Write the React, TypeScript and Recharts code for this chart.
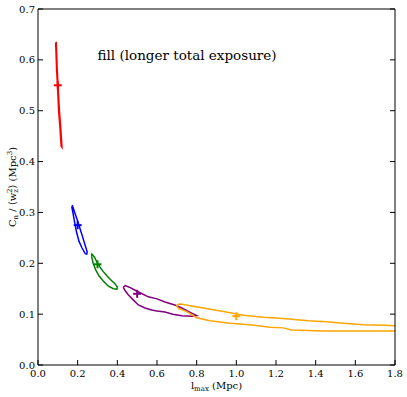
import { ComposedChart, Line, Scatter, XAxis, YAxis } from "recharts";

// contour outlines, [l_max (Mpc), C_n/<w_z^2>]
const redLoop = [[0.089,0.634],[0.094,0.58],[0.098,0.55],[0.104,0.50],[0.110,0.47],[0.117,0.43],[0.121,0.428],[0.114,0.47],[0.108,0.50],[0.101,0.55],[0.097,0.58],[0.092,0.634],[0.089,0.634]];
const blueLoop = [[0.170,0.312],[0.178,0.295],[0.186,0.278],[0.195,0.260],[0.207,0.243],[0.222,0.230],[0.238,0.219],[0.246,0.218],[0.248,0.222],[0.238,0.235],[0.225,0.252],[0.212,0.268],[0.198,0.285],[0.185,0.300],[0.174,0.313],[0.170,0.312]];
const greenLoop = [[0.270,0.214],[0.278,0.200],[0.291,0.187],[0.308,0.175],[0.329,0.165],[0.355,0.155],[0.380,0.150],[0.398,0.149],[0.400,0.153],[0.388,0.160],[0.365,0.168],[0.346,0.176],[0.326,0.185],[0.312,0.193],[0.296,0.203],[0.285,0.212],[0.272,0.218],[0.270,0.214]];
const purpleLoop = [[0.430,0.153],[0.440,0.156],[0.460,0.153],[0.490,0.147],[0.520,0.141],[0.556,0.134],[0.600,0.130],[0.640,0.124],[0.690,0.118],[0.725,0.112],[0.760,0.105],[0.790,0.099],[0.800,0.097],[0.780,0.096],[0.725,0.097],[0.680,0.100],[0.640,0.104],[0.600,0.106],[0.573,0.108],[0.540,0.112],[0.506,0.118],[0.480,0.128],[0.455,0.138],[0.438,0.147],[0.430,0.153]];
const orangeLoop = [[1.80,0.077],[1.75,0.078],[1.64,0.079],[1.54,0.082],[1.456,0.085],[1.363,0.087],[1.279,0.090],[1.22,0.092],[1.136,0.094],[1.035,0.098],[0.934,0.105],[0.834,0.112],[0.760,0.117],[0.720,0.120],[0.705,0.119],[0.699,0.116],[0.710,0.111],[0.750,0.105],[0.800,0.093],[0.867,0.087],[0.968,0.082],[1.069,0.079],[1.170,0.074],[1.237,0.073],[1.279,0.069],[1.44,0.067],[1.80,0.067]];

// best-fit points
const bestFit = [
  { x: 0.1, y: 0.55, c: "#ff0000" },
  { x: 0.2, y: 0.275, c: "#0000ff" },
  { x: 0.3, y: 0.198, c: "#008000" },
  { x: 0.5, y: 0.14, c: "#800080" },
  { x: 1.0, y: 0.096, c: "#ffa500" },
];

const xTicks = [0, 0.2, 0.4, 0.6, 0.8, 1.0, 1.2, 1.4, 1.6, 1.8];
const yTicks = [0, 0.1, 0.2, 0.3, 0.4, 0.5, 0.6, 0.7];
const note = [{ x: 0.3, y: 0.6, text: "fill (longer total exposure)" }];

const FONT = "'DejaVu Serif', serif";
const toPts = (arr: number[][]) => arr.map(([x, y]) => ({ x, y }));

const series = [
  { name: "red", pts: toPts(redLoop), color: "#ff0000" },
  { name: "blue", pts: toPts(blueLoop), color: "#0000ff" },
  { name: "green", pts: toPts(greenLoop), color: "#008000" },
  { name: "purple", pts: toPts(purpleLoop), color: "#800080" },
  { name: "orange", pts: toPts(orangeLoop), color: "#ffa500" },
];

// ticks point inward, like matplotlib classic
const BottomTick = (p: any) => (
  <g>
    <line x1={p.x} y1={p.y} x2={p.x} y2={p.y - 5} stroke="#000" />
    <text x={p.x} y={p.y + 12} textAnchor="middle" fontSize={10} fontFamily={FONT} fill="#000">
      {Number(p.payload.value).toFixed(1)}
    </text>
  </g>
);
const TopTick = (p: any) => <line x1={p.x} y1={p.y} x2={p.x} y2={p.y + 5} stroke="#000" />;
const LeftTick = (p: any) => (
  <g>
    <line x1={p.x} y1={p.y} x2={p.x + 5} y2={p.y} stroke="#000" />
    <text x={p.x - 3} y={p.y + 3.5} textAnchor="end" fontSize={10} fontFamily={FONT} fill="#000">
      {Number(p.payload.value).toFixed(1)}
    </text>
  </g>
);
const RightTick = (p: any) => <line x1={p.x} y1={p.y} x2={p.x - 5} y2={p.y} stroke="#000" />;

const Plus = (p: any) => (
  <g stroke={p.payload.c} strokeWidth={2}>
    <line x1={p.cx - 4} y1={p.cy} x2={p.cx + 4} y2={p.cy} />
    <line x1={p.cx} y1={p.cy - 4} x2={p.cx} y2={p.cy + 4} />
  </g>
);

const NoteText = (p: any) => (
  <text x={p.cx} y={p.cy} fontSize={13.5} fontFamily={FONT} fill="#000">{p.payload.text}</text>
);

export default function App() {
  return (
    <div style={{ position: "absolute", left: 0, top: 0, width: 407, height: 397, background: "#fff" }}>
      <ComposedChart width={407} height={397} margin={{ top: 0, right: 0, bottom: 0, left: 0 }}>
        <XAxis dataKey="x" type="number" domain={[0, 1.8]} ticks={xTicks} allowDataOverflow
          height={32} tickSize={0} tickMargin={0} tickLine={false} stroke="#000" tick={BottomTick} interval={0} />
        <XAxis xAxisId="top" orientation="top" type="number" domain={[0, 1.8]} ticks={xTicks} allowDataOverflow
          height={9} tickSize={0} tickMargin={0} tickLine={false} stroke="#000" tick={TopTick} interval={0} />
        <YAxis dataKey="y" type="number" domain={[0, 0.7]} ticks={yTicks} allowDataOverflow
          width={38} tickSize={0} tickMargin={0} tickLine={false} stroke="#000" tick={LeftTick} interval={0} />
        <YAxis yAxisId="right" orientation="right" type="number" domain={[0, 0.7]} ticks={yTicks} allowDataOverflow
          width={12} tickSize={0} tickMargin={0} tickLine={false} stroke="#000" tick={RightTick} interval={0} />
        {series.map((s) => (
          <Line key={s.name} data={s.pts} dataKey="y" type="linear" stroke={s.color} strokeWidth={1.5}
            dot={false} activeDot={false} isAnimationActive={false} />
        ))}
        <Scatter data={bestFit} dataKey="y" shape={Plus} isAnimationActive={false} />
        <Scatter data={note} dataKey="y" shape={NoteText} isAnimationActive={false} />
      </ComposedChart>
      <svg width={407} height={397} style={{ position: "absolute", left: 0, top: 0, pointerEvents: "none" }}>
        <text x={216.5} y={389} textAnchor="middle" fontSize={10} fontFamily={FONT} fill="#000">
          l<tspan fontSize={7} dy={2}>max</tspan><tspan dy={-2}> (Mpc)</tspan>
        </text>
        <text transform="translate(16,187) rotate(-90)" textAnchor="middle" fontSize={10} fontFamily={FONT} fill="#000">
          C<tspan fontSize={7} dy={2}>n</tspan><tspan dy={-2}> / ⟨w</tspan><tspan fontSize={7} dy={2}>z</tspan><tspan fontSize={7} dx={-4} dy={-6}>2</tspan><tspan dy={4}>⟩ (Mpc</tspan><tspan fontSize={7} dy={-4}>3</tspan><tspan dy={4}>)</tspan>
        </text>
      </svg>
    </div>
  );
}
